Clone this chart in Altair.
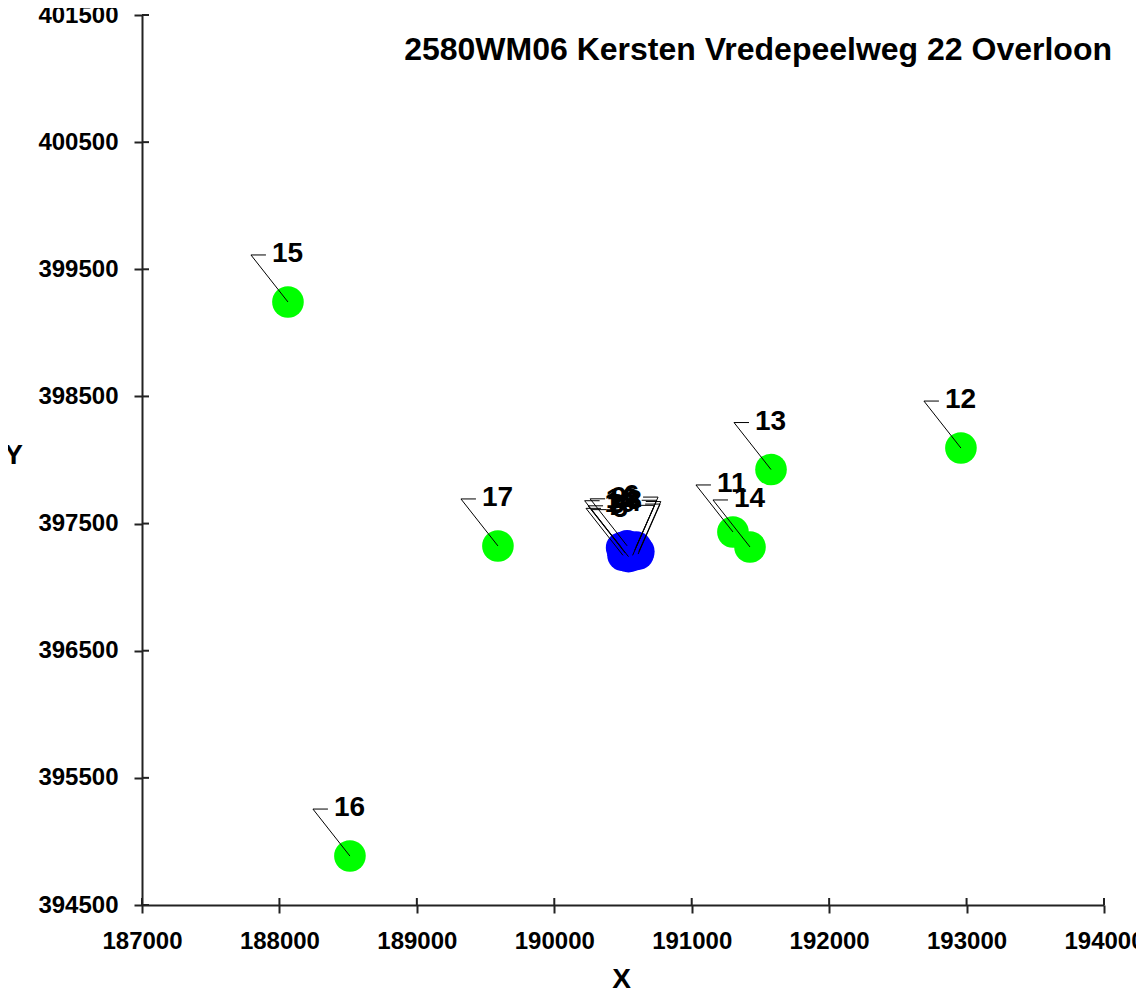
import altair as alt
import pandas as pd

TITLE = "2580WM06 Kersten Vredepeelweg 22 Overloon"

# Sources of the site itself (blue)
SITE_LABELS = ["1", "2", "3", "4", "5", "6", "7", "8", "9", "10"]
SITE_X = [190490, 190585, 190515, 190610, 190540, 190595, 190500, 190615, 190530, 190570]
SITE_Y = [397310, 397290, 397270, 397260, 397240, 397315, 397250, 397280, 397325, 397250]

# Surrounding sources (green)
OTHER_LABELS = ["11", "12", "13", "14", "15", "16", "17"]
OTHER_X = [191300, 192959, 191577, 191424, 188062, 188513, 189590]
OTHER_Y = [397434, 398094, 397925, 397316, 399243, 394885, 397324]

# labels whose leader points to the upper right
RIGHT_SIDE_LABELS = ["2", "4", "6", "8", "10"]

GROUPS = ["inrichting", "omgeving"]
GROUP_COLORS = ["#0000ff", "#00ff00"]

X_TICKS = [187000, 188000, 189000, 190000, 191000, 192000, 193000, 194000]
Y_TICKS = [394500, 395500, 396500, 397500, 398500, 399500, 400500, 401500]

W, H = 962, 890
FONT = "Liberation Sans"

df = pd.DataFrame({
    "x": SITE_X + OTHER_X,
    "y": SITE_Y + OTHER_Y,
    "label": SITE_LABELS + OTHER_LABELS,
    "groep": [GROUPS[0]] * len(SITE_LABELS) + [GROUPS[1]] * len(OTHER_LABELS),
})
df["right"] = df["label"].isin(RIGHT_SIDE_LABELS)

xscale = alt.Scale(domain=[X_TICKS[0], X_TICKS[-1]], nice=False, zero=False)
yscale = alt.Scale(domain=[Y_TICKS[0], Y_TICKS[-1]], nice=False, zero=False)

axis_common = dict(
    grid=False, domainColor="#222", domainWidth=2, tickColor="#222", tickWidth=2,
    tickSize=8, labelFont=FONT, labelFontSize=24, labelFontWeight="bold",
    labelColor="#000", labelPadding=16, titleFont=FONT, titleFontSize=28,
    titleFontWeight="bold", titleColor="#000", labelOverlap=False, labelFlush=False,
    format="d",
)
x_axis = alt.Axis(values=X_TICKS, title="X", titleX=479, titleY=74,
                  titleAlign="center", titleBaseline="middle", **axis_common)
y_axis = alt.Axis(values=Y_TICKS, title="Y", titleX=-129, titleY=440, titleAngle=0,
                  titleAlign="center", titleBaseline="middle", **axis_common)


def xe(field):
    return alt.X(f"{field}:Q", scale=xscale, axis=x_axis)


def ye(field):
    return alt.Y(f"{field}:Q", scale=yscale, axis=y_axis)


base = alt.Chart(df)

points = base.mark_circle(size=1000, opacity=1).encode(
    x=xe("x"), y=ye("y"),
    color=alt.Color("groep:N", scale=alt.Scale(domain=GROUPS, range=GROUP_COLORS), legend=None),
)

left = base.transform_filter("!datum.right")
right = base.transform_filter("datum.right")

lead_l = left.mark_rule(color="#000", strokeWidth=1, x2Offset=-37, y2Offset=-47).encode(
    x=xe("x"), y=ye("y"), x2="x:Q", y2="y:Q")
tick_l = left.mark_rule(color="#000", strokeWidth=1, xOffset=-37, yOffset=-47,
                        x2Offset=-22, y2Offset=-47).encode(x=xe("x"), y=ye("y"), x2="x:Q", y2="y:Q")
text_l = left.mark_text(align="left", baseline="middle", dx=-16, dy=-48, font=FONT,
                        fontSize=28, fontWeight="bold", color="#000").encode(
    x=xe("x"), y=ye("y"), text="label:N")

lead_r = right.mark_rule(color="#000", strokeWidth=1, x2Offset=22, y2Offset=-50).encode(
    x=xe("x"), y=ye("y"), x2="x:Q", y2="y:Q")
tick_r = right.mark_rule(color="#000", strokeWidth=1, xOffset=22, yOffset=-50,
                         x2Offset=7, y2Offset=-50).encode(x=xe("x"), y=ye("y"), x2="x:Q", y2="y:Q")
text_r = right.mark_text(align="right", baseline="middle", dx=3, dy=-51, font=FONT,
                         fontSize=28, fontWeight="bold", color="#000").encode(
    x=xe("x"), y=ye("y"), text="label:N")

# inner half of the axis ticks (ticks cross the axis line)
xt = alt.Chart(pd.DataFrame({"x": X_TICKS})).mark_rule(color="#222", strokeWidth=2).encode(
    x=xe("x"), y=alt.value(H), y2=alt.value(H - 7))
yt = alt.Chart(pd.DataFrame({"y": Y_TICKS})).mark_rule(color="#222", strokeWidth=2).encode(
    y=ye("y"), x=alt.value(0), x2=alt.value(7))

chart = alt.layer(points, lead_l, tick_l, lead_r, tick_r, text_l, text_r, xt, yt).properties(
    width=W, height=H,
    background="white",
    title=alt.TitleParams(TITLE, anchor="end", frame="group", orient="top", offset=0,
                          baseline="alphabetic", dx=8, dy=89, font=FONT, fontSize=32,
                          fontWeight="bold", color="#000"),
    autosize=alt.AutoSizeParams(type="none"),
    padding={"left": 134, "top": 7, "right": 32, "bottom": 86},
).configure_view(stroke=None)

chart.save("out.html", embed_options={"renderer": "svg", "actions": False})
